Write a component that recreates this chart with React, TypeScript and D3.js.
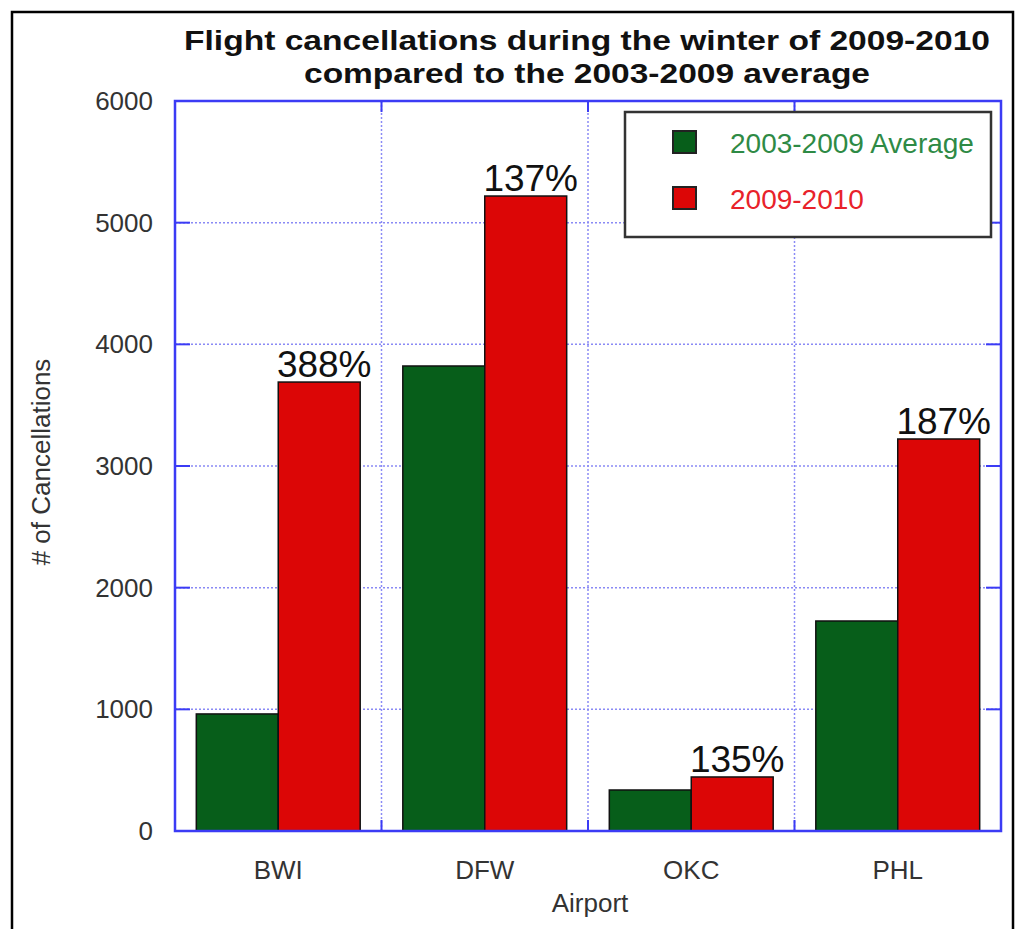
import React from "react";
import * as d3 from "d3";

const airports = ["BWI", "DFW", "OKC", "PHL"];
const average = [962, 3822, 337, 1726];
const winter = [3690, 5219, 444, 3222];
const pctLabels = ["388%", "137%", "135%", "187%"];
const yTicks = [0, 1000, 2000, 3000, 4000, 5000, 6000];
const seriesNames = ["2003-2009 Average", "2009-2010"];

const W = 1016;
const H = 929;
const m = { left: 175, top: 101, right: 1001, bottom: 831 };
const BLUE = "#3b3bf5";
const GRID = "#8a8af5";
const GREEN = "#075e1a";
const RED = "#dc0606";
const font = "'Liberation Sans', Arial, sans-serif";

export default function App() {
  const x = d3.scaleBand().domain(airports).range([m.left, m.right]).paddingInner(0).paddingOuter(0);
  const inner = d3.scaleBand().domain(["avg", "win"]).range([0, x.bandwidth()]).paddingInner(0).paddingOuter(0.26);
  const y = d3.scaleLinear().domain([0, 6000]).range([m.bottom, m.top]);
  const bounds = airports.slice(1).map((a) => x(a) as number);

  return (
    <svg width={W} height={H} style={{ display: "block", position: "absolute", left: 0, top: 0 }}>
      <rect x={0} y={0} width={W} height={H} fill="#fff" />
      <rect x={12} y={12} width={1001} height={940} fill="none" stroke="#000" strokeWidth={2.5} />

      <g fontFamily={font} fontWeight="bold" fontSize={28} textAnchor="middle" fill="#111">
        <text x={587} y={50} textLength={806} lengthAdjust="spacingAndGlyphs">
          Flight cancellations during the winter of 2009-2010
        </text>
        <text x={587} y={83} textLength={566} lengthAdjust="spacingAndGlyphs">
          compared to the 2003-2009 average
        </text>
      </g>

      {/* grid */}
      <g stroke={GRID} strokeWidth={1.5} strokeDasharray="2,2">
        {yTicks.slice(1, -1).map((t) => (
          <line key={t} x1={m.left} x2={m.right} y1={y(t)} y2={y(t)} />
        ))}
        {bounds.map((b) => (
          <line key={b} x1={b} x2={b} y1={m.top} y2={m.bottom} />
        ))}
      </g>

      {/* ticks */}
      <g stroke={BLUE} strokeWidth={2}>
        {yTicks.slice(1, -1).map((t) => (
          <g key={t}>
            <line x1={m.left} x2={m.left + 15} y1={y(t)} y2={y(t)} />
            <line x1={m.right - 15} x2={m.right} y1={y(t)} y2={y(t)} />
          </g>
        ))}
        {bounds.map((b) => (
          <g key={b}>
            <line x1={b} x2={b} y1={m.bottom} y2={m.bottom - 11} />
            <line x1={b} x2={b} y1={m.top} y2={m.top + 11} />
          </g>
        ))}
      </g>

      {/* bars */}
      {airports.map((a, i) => {
        const x0 = x(a) as number;
        const xa = x0 + (inner("avg") as number);
        const xw = x0 + (inner("win") as number);
        const bw = inner.bandwidth();
        return (
          <g key={a} stroke="#111" strokeWidth={1.5}>
            <rect x={xa} y={y(average[i])} width={bw} height={m.bottom - y(average[i])} fill={GREEN} />
            <rect x={xw} y={y(winter[i])} width={bw} height={m.bottom - y(winter[i])} fill={RED} />
            <text
              x={xw + bw / 2 + 5}
              y={y(winter[i]) - 5}
              stroke="none"
              fill="#111"
              fontFamily={font}
              fontSize={37}
              textAnchor="middle"
            >
              {pctLabels[i]}
            </text>
          </g>
        );
      })}

      {/* frame */}
      <rect x={m.left} y={m.top} width={m.right - m.left} height={m.bottom - m.top} fill="none" stroke={BLUE} strokeWidth={2.5} />

      {/* y tick labels */}
      <g fontFamily={font} fontSize={26} fill="#333" textAnchor="end">
        {yTicks.map((t) => (
          <text key={t} x={153} y={y(t) + 9}>
            {t}
          </text>
        ))}
      </g>
      {/* x tick labels */}
      <g fontFamily={font} fontSize={26} fill="#333" textAnchor="middle">
        {airports.map((a) => (
          <text key={a} x={(x(a) as number) + x.bandwidth() / 2} y={879}>
            {a}
          </text>
        ))}
        <text x={590} y={912}>Airport</text>
      </g>
      <text
        transform="translate(50,462) rotate(-90)"
        fontFamily={font}
        fontSize={26}
        fill="#333"
        textAnchor="middle"
      >
        # of Cancellations
      </text>

      {/* legend */}
      <rect x={625} y={112} width={366} height={125} fill="#fff" stroke="#333" strokeWidth={2.5} />
      {seriesNames.map((s, i) => (
        <g key={s}>
          <rect x={673} y={131 + i * 56} width={23} height={22} fill={i === 0 ? GREEN : RED} stroke="#222" strokeWidth={2} />
          <text x={730} y={153 + i * 56} fontFamily={font} fontSize={28} fill={i === 0 ? "#2e8a45" : "#e8222a"}>
            {s}
          </text>
        </g>
      ))}
    </svg>
  );
}
